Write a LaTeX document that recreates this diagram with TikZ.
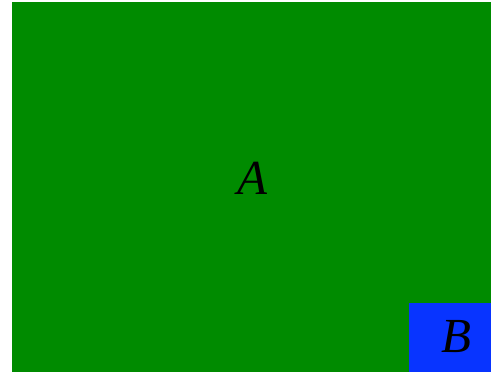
\documentclass[tikz,border=0pt]{standalone}
\usepackage{fontspec}
\setmainfont{Liberation Serif}
\definecolor{regiongreen}{RGB}{0,139,0}
\definecolor{regionblue}{RGB}{8,52,255}
\begin{document}
\begin{tikzpicture}[x=1pt, y=1pt,
  region/.style={draw=none},
  lbl/.style={font=\fontsize{49}{49}\selectfont\itshape, inner sep=0pt}]
  \useasboundingbox (0,0) rectangle (491,372);
  \fill[region, regiongreen] (12,0) rectangle (491,370);
  \fill[region, regionblue] (409,0) rectangle (491,69);
  \node[lbl] (a) at (252,194) {A};
  \node[lbl] (b) at (456,35) {B};
\end{tikzpicture}
\end{document}
